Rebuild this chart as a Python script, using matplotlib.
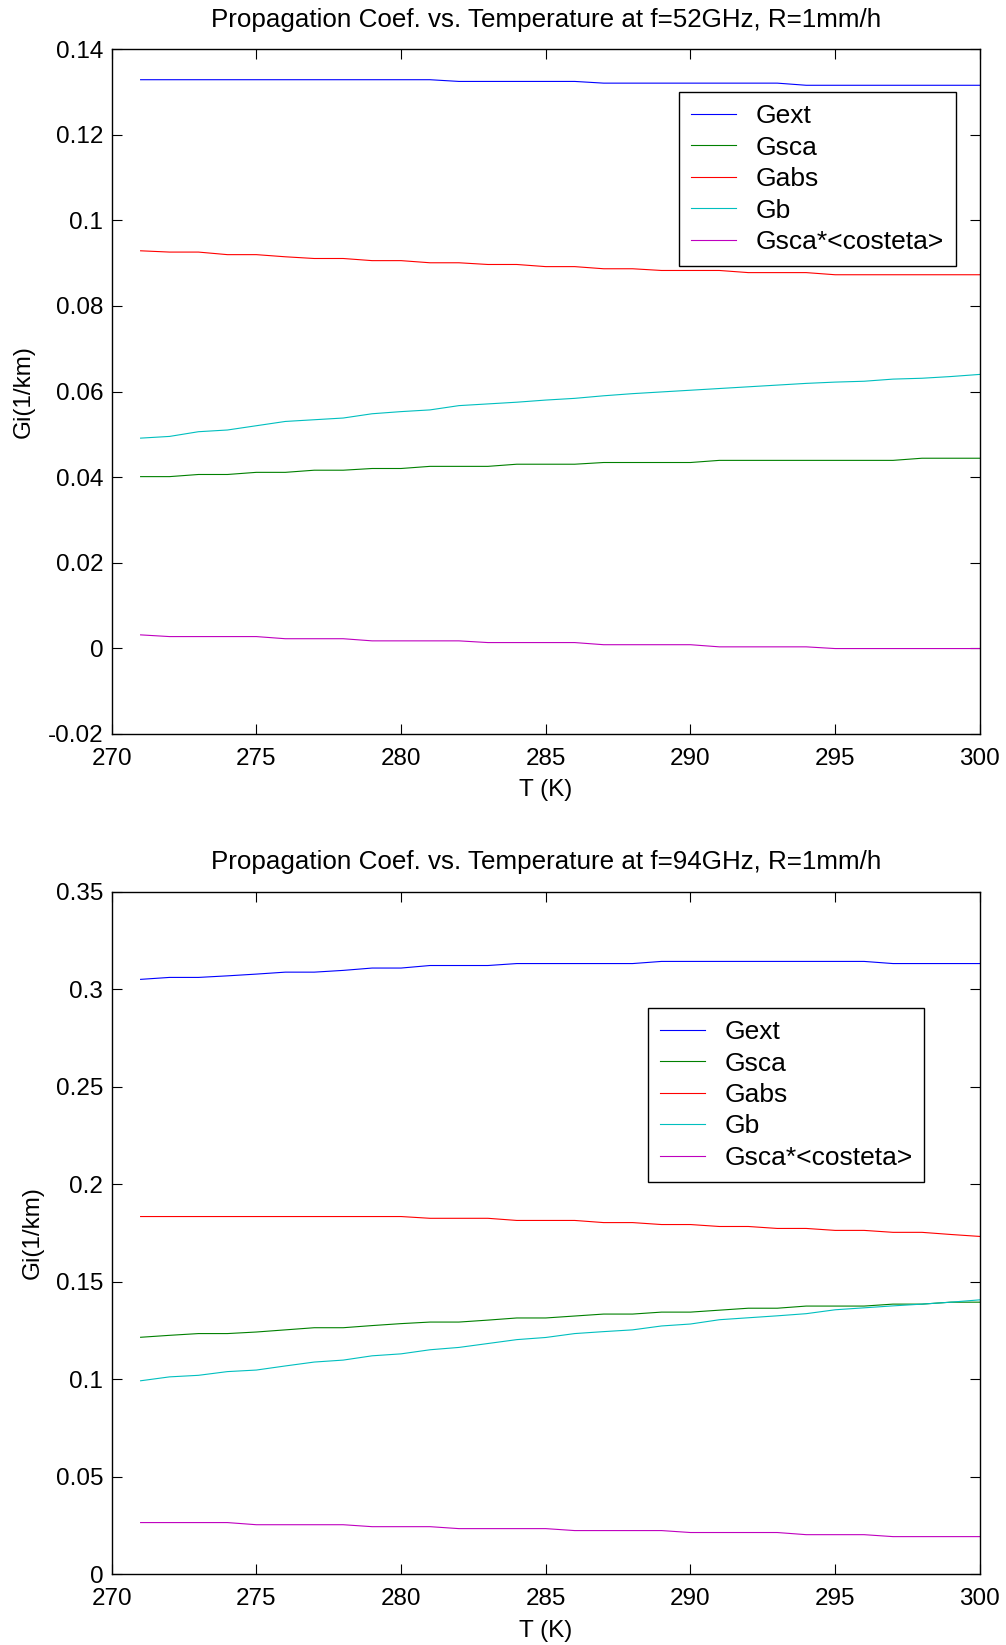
import numpy as np
import matplotlib
matplotlib.use('Agg')
import matplotlib.pyplot as plt
from matplotlib.ticker import FuncFormatter

# temperature grid (K)
T = np.arange(271, 301)

# f = 52 GHz, R = 1 mm/h
gext_52 = [0.1329] * 11 + [0.1325] * 5 + [0.1321] * 7 + [0.1316] * 7
gsca_52 = [0.0401, 0.0401, 0.0406, 0.0406, 0.0411, 0.0411, 0.0416, 0.0416, 0.0420, 0.0420,
           0.0425, 0.0425, 0.0425, 0.0430, 0.0430, 0.0430, 0.0434, 0.0434, 0.0434, 0.0434,
           0.0439, 0.0439, 0.0439, 0.0439, 0.0439, 0.0439, 0.0439, 0.0444, 0.0444, 0.0444]
gabs_52 = [0.0929, 0.0926, 0.0926, 0.0920, 0.0920, 0.0915, 0.0911, 0.0911, 0.0906, 0.0906,
           0.0901, 0.0901, 0.0897, 0.0897, 0.0892, 0.0892, 0.0887, 0.0887, 0.0883, 0.0883,
           0.0883, 0.0878, 0.0878, 0.0878, 0.0873, 0.0873, 0.0873, 0.0873, 0.0873, 0.0873]
gb_52 = [0.0491, 0.0495, 0.0506, 0.0510, 0.0520, 0.0530, 0.0534, 0.0538, 0.0548, 0.0553,
         0.0557, 0.0567, 0.0571, 0.0575, 0.0580, 0.0584, 0.0590, 0.0595, 0.0599, 0.0603,
         0.0607, 0.0611, 0.0615, 0.0619, 0.0622, 0.0624, 0.0629, 0.0631, 0.0635, 0.0640]
gcos_52 = [0.0031] + [0.0027] * 4 + [0.0022] * 3 + [0.0017] * 4 + [0.0013] * 4 \
          + [0.0008] * 4 + [0.0003] * 4 + [-0.0001] * 6

# f = 94 GHz, R = 1 mm/h
gext_94 = [0.3050, 0.3060, 0.3060, 0.3068, 0.3077, 0.3087, 0.3087, 0.3096, 0.3108, 0.3108,
           0.3121, 0.3121, 0.3121, 0.3131, 0.3131, 0.3131, 0.3131, 0.3131, 0.3142, 0.3142,
           0.3142, 0.3142, 0.3142, 0.3142, 0.3142, 0.3142, 0.3131, 0.3131, 0.3131, 0.3131]
gsca_94 = [0.1215, 0.1225, 0.1234, 0.1234, 0.1242, 0.1253, 0.1264, 0.1264, 0.1275, 0.1285,
           0.1293, 0.1293, 0.1303, 0.1314, 0.1314, 0.1324, 0.1334, 0.1334, 0.1344, 0.1344,
           0.1354, 0.1364, 0.1364, 0.1375, 0.1375, 0.1375, 0.1385, 0.1385, 0.1395, 0.1395]
gabs_94 = [0.1834] * 10 + [0.1825] * 3 + [0.1814] * 3 + [0.1803] * 2 + [0.1793] * 2 \
          + [0.1783] * 2 + [0.1773] * 2 + [0.1763] * 2 + [0.1753] * 2 + [0.1742, 0.1732]
gb_94 = [0.0992, 0.1012, 0.1020, 0.1039, 0.1047, 0.1068, 0.1088, 0.1098, 0.1120, 0.1130,
         0.1151, 0.1163, 0.1183, 0.1203, 0.1214, 0.1234, 0.1244, 0.1253, 0.1273, 0.1283,
         0.1305, 0.1315, 0.1325, 0.1336, 0.1356, 0.1366, 0.1376, 0.1385, 0.1395, 0.1407]
gcos_94 = [0.0265] * 4 + [0.0254] * 4 + [0.0244] * 3 + [0.0234] * 4 + [0.0224] * 4 \
          + [0.0214] * 4 + [0.0203] * 3 + [0.0193] * 4

labels = ['Gext', 'Gsca', 'Gabs', 'Gb', 'Gsca*<costeta>']
colors = ['#0000ff', '#008000', '#ff0000', '#00bfbf', '#bf00bf']

plt.rcParams['font.family'] = ['Liberation Sans', 'DejaVu Sans']
plt.rcParams['font.size'] = 17.5

fig = plt.figure(figsize=(10.06, 16.45), dpi=100)
ax1 = fig.add_axes([0.111, 0.554, 0.863, 0.416])
ax2 = fig.add_axes([0.111, 0.043, 0.863, 0.415])


def setup(ax, series, ylim, ystep, freq, leg_xy):
    for y, lab, c in zip(series, labels, colors):
        ax.plot(T, y, color=c, linewidth=0.8, label=lab)
    ax.set_xlim(270, 300)
    ax.set_ylim(*ylim)
    ax.set_xticks(np.arange(270, 301, 5))
    ax.set_yticks(np.arange(ylim[0], ylim[1] + ystep / 2, ystep))
    ax.yaxis.set_major_formatter(FuncFormatter(lambda v, p: '%g' % round(v, 4)))
    ax.tick_params(direction='in', length=7, width=0.8, top=True, right=True)
    ax.tick_params(axis='x', pad=10)
    ax.tick_params(axis='y', pad=6)
    for s in ax.spines.values():
        s.set_linewidth(1.0)
    ax.set_xlabel('T (K)', labelpad=7)
    ax.set_ylabel('Gi(1/km)', labelpad=9)
    ax.set_title('Propagation Coef. vs. Temperature at f=%dGHz, R=1mm/h' % freq,
                 fontsize=18.7, pad=16)
    leg = ax.legend(loc='upper left', bbox_to_anchor=leg_xy, frameon=True, fancybox=False,
                    framealpha=1, edgecolor='black', borderaxespad=0, borderpad=0.45,
                    handlelength=1.7, handletextpad=0.75, labelspacing=0.28, fontsize=19)
    leg.get_frame().set_linewidth(1.0)


setup(ax1, [gext_52, gsca_52, gabs_52, gb_52, gcos_52], (-0.02, 0.14), 0.02, 52, (0.654, 0.937))
setup(ax2, [gext_94, gsca_94, gabs_94, gb_94, gcos_94], (0.0, 0.35), 0.05, 94, (0.6175, 0.829))

fig.savefig('out.png', dpi=100)
